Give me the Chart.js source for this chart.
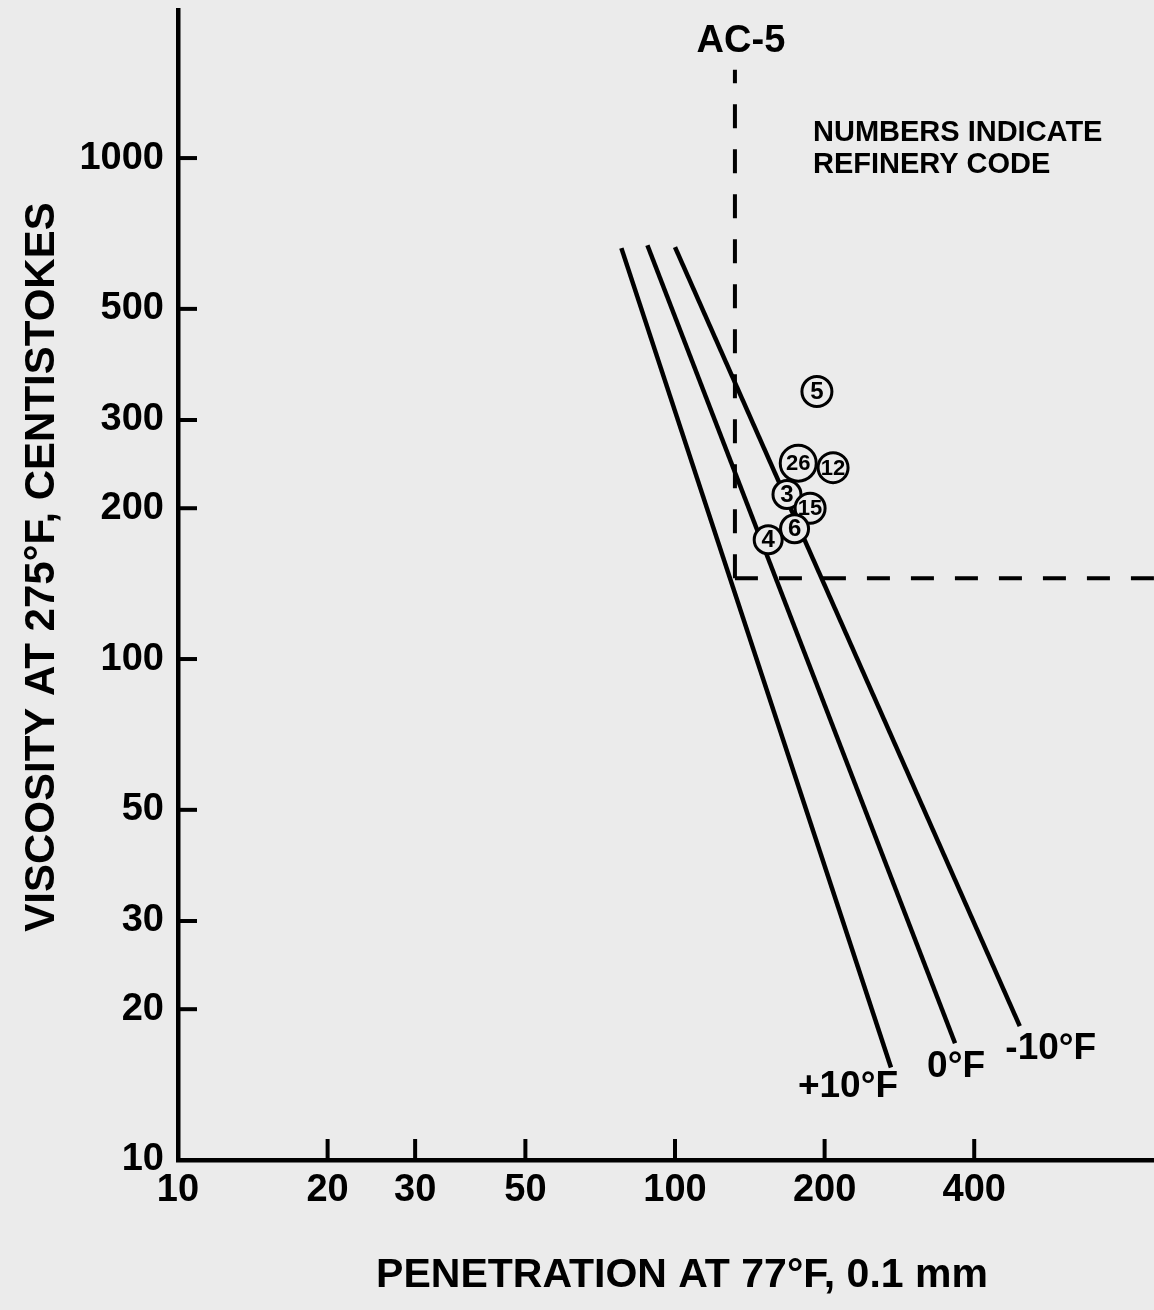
<!DOCTYPE html>
<html>
<head>
<meta charset="utf-8">
<script src="https://cdn.jsdelivr.net/npm/chart.js@4.4.0/dist/chart.umd.min.js"></script>
<style>
  html, body { margin: 0; padding: 0; background: #ebebeb; }
  #wrap { width: 1154px; height: 1310px; position: relative; }
</style>
</head>
<body>
<div id="wrap"><canvas id="viscChart"></canvas></div>
<script>
// axis ticks
const penTicks = [10, 20, 30, 50, 100, 200, 400];
const viscTicks = [10, 20, 30, 50, 100, 200, 300, 500, 1000];

// refinery samples (penetration at 77F, viscosity at 275F)
const refineryCodes = ['5', '26', '12', '3', '15', '6', '4'];
const refineryPen = [193, 177, 208, 168, 187, 174, 154];
const refineryVisc = [342, 246, 241, 213, 200, 182, 173];

// temperature lines, end points
const tempLabels = ['+10°F', '0°F', '-10°F'];
const lineTopPen = [78, 88, 100];
const lineTopVisc = [661, 670, 664];
const lineBotPen = [272, 366, 494];
const lineBotVisc = [15.3, 17.1, 18.5];

// AC-5 limits
const ac5Pen = 132;
const ac5Visc = 145;
const ac5TopVisc = 1500;
const penMax = 920;

const FONT = "'Liberation Sans', Arial, sans-serif";

const tempDatasets = tempLabels.map((label, i) => ({
  label: label,
  data: [{ x: lineTopPen[i], y: lineTopVisc[i] }, { x: lineBotPen[i], y: lineBotVisc[i] }],
  showLine: true,
  borderColor: '#000',
  borderWidth: 4.5,
  pointRadius: 0
}));

const labelsPlugin = {
  id: 'labels',
  afterDraw(chart) {
    const ctx = chart.ctx;
    const xs = chart.scales.x, ys = chart.scales.y;
    ctx.save();
    ctx.fillStyle = '#000';
    ctx.strokeStyle = '#000';

    // inward tick marks
    ctx.lineWidth = 4;
    viscTicks.slice(1).forEach(v => {
      const y = ys.getPixelForValue(v);
      ctx.beginPath();
      ctx.moveTo(xs.left, y);
      ctx.lineTo(xs.left + 19, y);
      ctx.stroke();
    });
    penTicks.slice(1).forEach(v => {
      const x = xs.getPixelForValue(v);
      ctx.beginPath();
      ctx.moveTo(x, ys.bottom);
      ctx.lineTo(x, ys.bottom - 21);
      ctx.stroke();
    });

    // refinery codes inside circles
    const meta = chart.getDatasetMeta(0);
    ctx.textAlign = 'center';
    ctx.textBaseline = 'middle';
    meta.data.forEach((pt, i) => {
      const code = refineryCodes[i];
      ctx.font = 'bold ' + (code.length > 1 ? 22 : 24) + 'px ' + FONT;
      ctx.fillText(code, pt.x, pt.y + 1);
    });

    // temperature line labels
    const offs = [[-43, 19], [1, 24], [31, 23]];
    ctx.font = 'bold 37px ' + FONT;
    tempLabels.forEach((t, i) => {
      const m = chart.getDatasetMeta(i + 3);
      const end = m.data[1];
      ctx.fillText(t, end.x + offs[i][0], end.y + offs[i][1]);
    });

    // AC-5
    ctx.font = 'bold 38px ' + FONT;
    ctx.fillText('AC-5', xs.getPixelForValue(ac5Pen) + 6, 42);

    // note
    ctx.textAlign = 'left';
    ctx.font = 'bold 29px ' + FONT;
    ctx.fillText('NUMBERS INDICATE', 813, 133);
    ctx.fillText('REFINERY CODE', 813, 165);

    // axis titles
    ctx.textAlign = 'center';
    ctx.font = 'bold 41px ' + FONT;
    ctx.fillText('PENETRATION AT 77°F, 0.1 mm', 682, 1276);
    ctx.translate(42, 567);
    ctx.rotate(-Math.PI / 2);
    ctx.font = 'bold 42px ' + FONT;
    ctx.fillText('VISCOSITY AT 275°F, CENTISTOKES', 0, 0);
    ctx.restore();
  }
};

new Chart(document.getElementById('viscChart').getContext('2d'), {
  type: 'scatter',
  data: {
    datasets: [
      {
        label: 'Refinery',
        data: refineryPen.map((p, i) => ({ x: p, y: refineryVisc[i] })),
        pointRadius: [15, 18, 15, 14, 15, 14, 14],
        pointBorderWidth: 3,
        pointBorderColor: '#000',
        pointBackgroundColor: '#ebebeb'
      },
      {
        label: 'AC-5 pen',
        data: [{ x: ac5Pen, y: ac5Visc }, { x: ac5Pen, y: ac5TopVisc }],
        showLine: true,
        borderColor: '#000',
        borderWidth: 4,
        borderDash: [24, 21],
        pointRadius: 0
      },
      {
        label: 'AC-5 visc',
        data: [{ x: ac5Pen, y: ac5Visc }, { x: penMax, y: ac5Visc }],
        showLine: true,
        borderColor: '#000',
        borderWidth: 4,
        borderDash: [23, 21],
        pointRadius: 0
      },
      ...tempDatasets
    ]
  },
  options: {
    responsive: true,
    maintainAspectRatio: false,
    animation: false,
    layout: { autoPadding: false, padding: { top: 10, right: 0, left: 0, bottom: 0 } },
    plugins: { legend: { display: false }, tooltip: { enabled: false } },
    scales: {
      x: {
        type: 'logarithmic',
        min: 10,
        max: penMax,
        afterBuildTicks: s => { s.ticks = penTicks.map(v => ({ value: v })); },
        afterFit: s => {
          s.height = 150;
          s.paddingLeft = 0;
          s.paddingRight = 0;
        },
        ticks: {
          autoSkip: false,
          maxRotation: 0,
          padding: 8,
          color: '#000',
          font: { family: FONT, size: 38, weight: 'bold' },
          callback: v => String(v)
        },
        grid: { display: true, drawOnChartArea: false, drawTicks: false },
        border: { display: true, color: '#000', width: 4.5 }
      },
      y: {
        type: 'logarithmic',
        min: 10,
        max: 1975,
        afterBuildTicks: s => { s.ticks = viscTicks.map(v => ({ value: v })); },
        afterFit: s => {
          s.width = 178;
          s.paddingTop = 0;
          s.paddingBottom = 0;
        },
        ticks: {
          autoSkip: false,
          padding: 14,
          color: '#000',
          font: { family: FONT, size: 38, weight: 'bold' },
          callback: v => String(v)
        },
        grid: { display: true, drawOnChartArea: false, drawTicks: false },
        border: { display: true, color: '#000', width: 4.5 }
      }
    }
  },
  plugins: [labelsPlugin]
});
</script>
</body>
</html>
